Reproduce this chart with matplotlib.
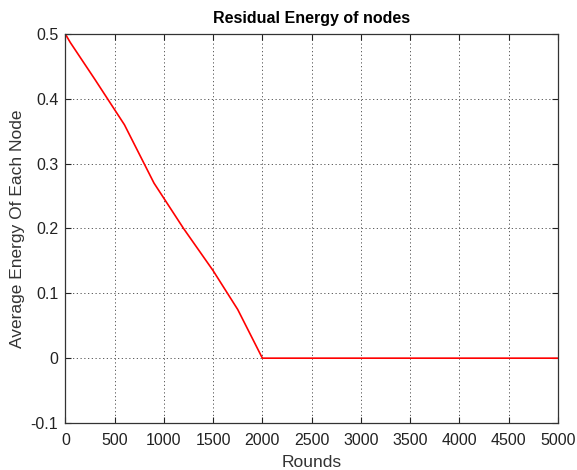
import matplotlib
matplotlib.use("Agg")
import matplotlib.pyplot as plt

rounds = [0, 50, 300, 600, 900, 1200, 1500, 1750, 2000, 2500, 3000, 3500, 4000, 4500, 5000]
energy = [0.5, 0.487, 0.43, 0.36, 0.27, 0.20, 0.135, 0.075, 0.0, 0.0, 0.0, 0.0, 0.0, 0.0, 0.0]
xticks = [0, 500, 1000, 1500, 2000, 2500, 3000, 3500, 4000, 4500, 5000]
yticks = [-0.1, 0, 0.1, 0.2, 0.3, 0.4, 0.5]
ytick_labels = ["-0.1", "0", "0.1", "0.2", "0.3", "0.4", "0.5"]

plt.rcParams['font.family'] = ['Liberation Sans', 'DejaVu Sans']

fig = plt.figure(figsize=(5.77, 4.70), dpi=100)
ax = fig.add_axes([0.1132, 0.100, 0.8538, 0.8277])
ax.plot(rounds, energy, color='red', linewidth=1.2)
ax.set_xlim(0, 5000)
ax.set_ylim(-0.1, 0.5)
ax.set_xticks(xticks)
ax.set_xticklabels([str(t) for t in xticks])
ax.set_yticks(yticks)
ax.set_yticklabels(ytick_labels)
ax.grid(True, color='#444444', linestyle=(0, (1.5, 3)), linewidth=0.6)
ax.tick_params(direction='in', length=4, labelsize=11.5, colors='#222222', top=True, right=True)
ax.tick_params(axis='x', pad=7)
ax.tick_params(axis='y', pad=5)
for s in ax.spines.values():
    s.set_color('#333333')
    s.set_linewidth(0.9)
ax.set_xlabel("Rounds", fontsize=12.5, color='#333333', labelpad=5)
ax.set_ylabel("Average Energy Of Each Node", fontsize=12.5, color='#333333', labelpad=4)
ax.set_title("Residual Energy of nodes", fontsize=11.5, fontweight='bold', pad=8)
fig.savefig("out.png", dpi=100)
